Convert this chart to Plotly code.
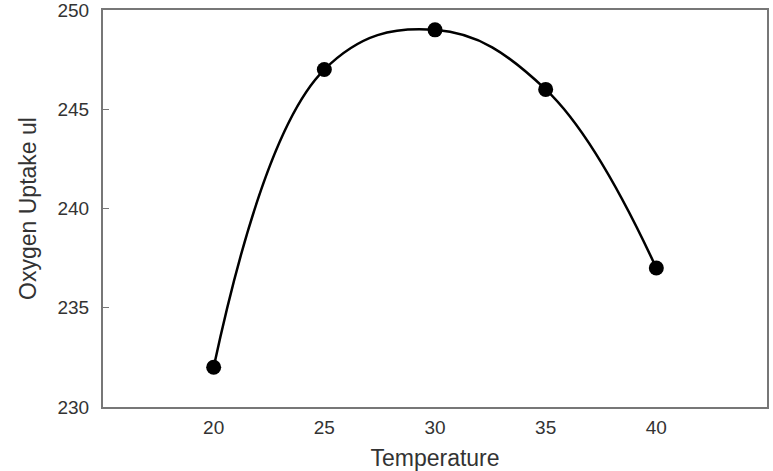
import plotly.graph_objects as go

temperature = [20, 25, 30, 35, 40]
oxygen_uptake = [232, 247, 249, 246, 237]
x_ticks = [20, 25, 30, 35, 40]
y_ticks = [230, 235, 240, 245, 250]

fig = go.Figure()
fig.add_trace(go.Scatter(
    x=temperature, y=oxygen_uptake,
    mode="lines+markers",
    line=dict(color="black", width=2.5, shape="spline", smoothing=1.15),
    marker=dict(color="black", size=15),
    showlegend=False,
))

fig.update_layout(
    width=773, height=471,
    margin=dict(l=103, r=6, t=10, b=64),
    paper_bgcolor="white", plot_bgcolor="white",
    font=dict(family="Liberation Sans, Arial", size=19, color="#333"),
)
fig.update_xaxes(
    range=[15, 45], tickvals=x_ticks, ticks="", showgrid=False, zeroline=False,
    showline=True, linecolor="#777", linewidth=2, mirror=True, automargin=False,
    title=dict(text="Temperature", standoff=16, font=dict(size=23, color="#333")),
    tickfont=dict(size=19, color="#333"), ticklabelstandoff=2,
)
fig.update_yaxes(
    range=[230, 250], tickvals=y_ticks, ticks="inside", ticklen=6, tickcolor="#777",
    showgrid=False, zeroline=False, automargin=False,
    showline=True, linecolor="#777", linewidth=2, mirror=True,
    title=dict(text="Oxygen Uptake ul", standoff=14, font=dict(size=23, color="#333")),
    tickfont=dict(size=19, color="#333"), ticklabelstandoff=8,
    ticklabeloverflow="allow",
)

fig.write_html("out.html")
